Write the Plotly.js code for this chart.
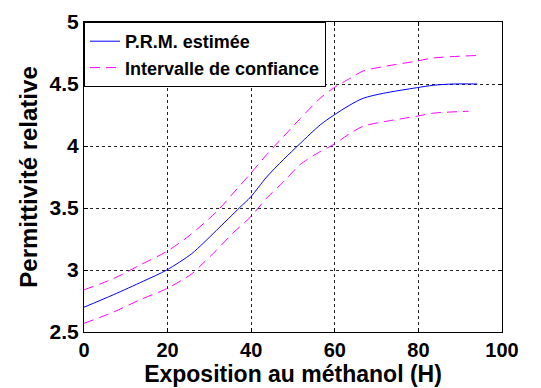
<!DOCTYPE html>
<html>
<head>
<meta charset="utf-8">
<script src="https://cdn.plot.ly/plotly-3.0.1.min.js"></script>
<style>html,body{margin:0;padding:0;background:#fff;}#chart{width:541px;height:388px;}</style>
</head>
<body>
<div id="chart"></div>
<script>
const xEst = [0, 7, 14.2, 19.8, 25.7, 28.5, 31.7, 37.3, 39.9, 43.7, 47.7, 51.7, 56.5, 59.6, 63.6, 66.8, 71.6, 79.6, 83.6, 88.3, 94.1];
const yEst = [2.70, 2.80, 2.91, 3.00, 3.13, 3.215, 3.32, 3.505, 3.59, 3.75, 3.89, 4.02, 4.17, 4.245, 4.33, 4.385, 4.425, 4.47, 4.49, 4.50, 4.50];

const xUp = [0, 7, 13.4, 19.8, 25.3, 31.7, 35.7, 39.9, 43.7, 47.7, 51.7, 56.5, 59.6, 63.6, 66.8, 71.6, 79.6, 83.6, 94];
const yUp = [2.84, 2.93, 3.04, 3.15, 3.28, 3.47, 3.62, 3.78, 3.93, 4.075, 4.22, 4.385, 4.465, 4.545, 4.605, 4.64, 4.685, 4.71, 4.73];

const xLow = [0, 7, 13.4, 19.8, 25.8, 28.5, 31.7, 35.7, 39.9, 43.7, 47.7, 51.7, 56.5, 59.6, 63.6, 66.8, 71.6, 79.6, 83.6, 92];
const yLow = [2.57, 2.66, 2.76, 2.85, 2.97, 3.055, 3.16, 3.30, 3.43, 3.58, 3.71, 3.85, 3.955, 4.01, 4.10, 4.16, 4.195, 4.24, 4.265, 4.28];

const xTicks = [0, 20, 40, 60, 80, 100];
const yTicks = [2.5, 3, 3.5, 4, 4.5, 5];
const names = ["P.R.M. estimée", "Intervalle de confiance"];

const FONT = "Liberation Sans, Arial, sans-serif";
const dashStyle = "10px,6px";

const traces = [
  {x: xEst, y: yEst, mode: "lines", name: names[0], line: {color: "#0000ff", width: 1, shape: "spline", smoothing: 0.8}},
  {x: xUp, y: yUp, mode: "lines", name: names[1], line: {color: "#ff00ff", width: 1, dash: dashStyle, shape: "spline", smoothing: 0.8}, legendgroup: "ci"},
  {x: xLow, y: yLow, mode: "lines", name: names[1], showlegend: false, line: {color: "#ff00ff", width: 1, dash: dashStyle, shape: "spline", smoothing: 0.8}, legendgroup: "ci"}
];

const axisCommon = {
  showline: true, linecolor: "#000", linewidth: 1, mirror: "ticks",
  ticks: "inside", ticklen: 4, tickcolor: "#000",
  showgrid: true, gridcolor: "#222", griddash: "dot", gridwidth: 1,
  zeroline: false,
  tickfont: {family: FONT, size: 21, color: "#000", weight: "bold"}
};

const layout = {
  width: 541, height: 388,
  margin: {l: 84, r: 39, t: 22, b: 56},
  paper_bgcolor: "#fff", plot_bgcolor: "#fff",
  showlegend: true,
  xaxis: Object.assign({}, axisCommon, {
    range: [0, 100], tickvals: xTicks, ticktext: xTicks.map(String),
    tickfont: {family: FONT, size: 20, color: "#000", weight: "bold"},
    title: {text: "Exposition au méthanol (H)", font: {family: FONT, size: 23, color: "#000", weight: "bold"}, standoff: 3}
  }),
  yaxis: Object.assign({}, axisCommon, {
    range: [2.5, 5], tickvals: yTicks, ticktext: yTicks.map(String),
    title: {text: "Permittivité relative", font: {family: FONT, size: 24, color: "#000", weight: "bold"}, standoff: 5}
  }),
  legend: {
    x: 0, y: 1, xanchor: "left", yanchor: "top",
    bgcolor: "#fff", bordercolor: "#000", borderwidth: 1,
    font: {family: FONT, size: 18, color: "#000", weight: "bold"},
    tracegroupgap: 0
  }
};

Plotly.newPlot("chart", traces, layout, {displayModeBar: false, staticPlot: true});
</script>
</body>
</html>
